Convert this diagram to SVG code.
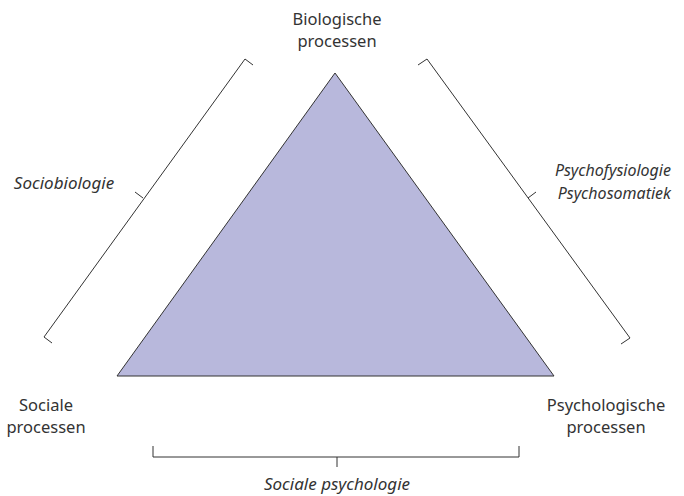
<svg xmlns="http://www.w3.org/2000/svg" width="684" height="496" viewBox="0 0 684 496">
<style>
text{font-family:"Noto Sans","Liberation Sans",sans-serif;font-size:16.5px;fill:#333}
.i{font-style:italic;font-size:17px}
.s{font-size:16px}
.br{fill:none;stroke:#333;stroke-width:1}
</style>
<rect width="684" height="496" fill="#fff"/>
<g id="triangle">
<polygon points="335,73 117,376 554,376" fill="#b8b8dc" stroke="#333" stroke-width="1"/>
</g>
<g id="bio"><text x="337" y="25" text-anchor="middle">Biologische</text><text x="337" y="47" text-anchor="middle">processen</text></g>
<g id="soc"><text x="46" y="411" text-anchor="middle">Sociale</text><text x="46" y="433" text-anchor="middle">processen</text></g>
<g id="psy"><text x="606" y="411" text-anchor="middle">Psychologische</text><text x="606" y="433" text-anchor="middle">processen</text></g>
<g id="connectors">
<path class="br" d="M253,65 L245,59 L44,337 L52,343 M143,198 L135,192"/>
<path class="br" d="M418,65 L427,59 L630,338 L621,344 M528,198 L536,192"/>
<path class="br" d="M153,446 L153,457 L519,457 L519,446 M337,457 L337,467"/>
</g>
<g id="lbl-sociobiologie"><text class="i" x="64" y="189" text-anchor="middle">Sociobiologie</text></g>
<g id="lbl-psychofys"><text class="i s" x="671" y="176" text-anchor="end">Psychofysiologie</text><text class="i s" x="671" y="199" text-anchor="end">Psychosomatiek</text></g>
<g id="lbl-socpsy"><text class="i" x="337" y="490" text-anchor="middle">Sociale psychologie</text></g>
</svg>
